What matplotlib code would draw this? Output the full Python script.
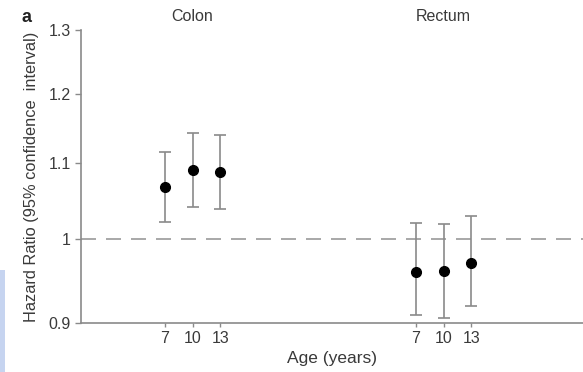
import matplotlib
matplotlib.use("Agg")
import matplotlib.pyplot as plt
from matplotlib.patches import Rectangle
import numpy as np

plt.rcParams['font.family'] = ['Liberation Sans', 'DejaVu Sans']

ages = [7, 10, 13]
age_labels = ["7", "10", "13"]
sites = ["Colon", "Rectum"]
colon_hr = [1.068, 1.091, 1.088]
colon_lo = [1.022, 1.041, 1.038]
colon_hi = [1.116, 1.143, 1.139]
rectum_hr = [0.960, 0.961, 0.970]
rectum_lo = [0.909, 0.906, 0.919]
rectum_hi = [1.020, 1.019, 1.030]
y_ticks = [0.9, 1.0, 1.1, 1.2, 1.3]
y_tick_labels = ["0.9", "1", "1.1", "1.2", "1.3"]

group_offset = 27

fig = plt.figure(figsize=(5.83, 3.72), dpi=100)
ax = fig.add_axes([0.139, 0.1317, 0.861, 0.7873])
ax.set_yscale('log')

grey = '#8a8a8a'
txt = '#3a3a3a'
xpos_all = []
for gi, (hr, lo, hi) in enumerate([(colon_hr, colon_lo, colon_hi), (rectum_hr, rectum_lo, rectum_hi)]):
    xs = np.array(ages) + gi * group_offset
    xpos_all.extend(xs)
    hr = np.array(hr); lo = np.array(lo); hi = np.array(hi)
    ax.errorbar(xs, hr, yerr=[hr - lo, hi - hr], fmt='o', color='black',
                ecolor=grey, elinewidth=1.2, capsize=4, capthick=1.2,
                markersize=7, zorder=3)
    ax.text(np.mean(xs), 1.3 * 1.008, sites[gi], ha='center', va='bottom',
            fontsize=11.5, color=txt, clip_on=False)

ax.axhline(1.0, color='#999999', lw=1.2, dashes=(9, 6), zorder=1)

ax.set_xlim(-2, 52)
ax.set_ylim(0.9, 1.3)
ax.set_yticks(y_ticks)
ax.set_yticklabels(y_tick_labels)
ax.yaxis.set_minor_locator(matplotlib.ticker.NullLocator())
ax.yaxis.set_minor_formatter(matplotlib.ticker.NullFormatter())
ax.set_xticks(xpos_all)
ax.set_xticklabels(age_labels * 2)
ax.tick_params(axis='both', colors=grey, labelcolor=txt, labelsize=11.5, length=4, width=1)
ax.tick_params(axis='x', pad=3, length=3)

for s in ['top', 'right']:
    ax.spines[s].set_visible(False)
for s in ['left', 'bottom']:
    ax.spines[s].set_color(grey)
    ax.spines[s].set_linewidth(1.2)

ax.set_xlabel("Age (years)", fontsize=12.5, color=txt, labelpad=3)
ax.set_ylabel("Hazard Ratio (95% confidence  interval)", fontsize=11.8, color=txt, labelpad=7)

fig.text(26 / 583, 1 - 17 / 372, "a", fontsize=13, fontweight='bold', ha='center', va='center',
         color='#222222')
fig.patches.append(Rectangle((0, 0), 5 / 583, 102 / 372, transform=fig.transFigure,
                             facecolor='#c6d4f0', edgecolor='none', zorder=0))

fig.savefig("out.png", dpi=100)
